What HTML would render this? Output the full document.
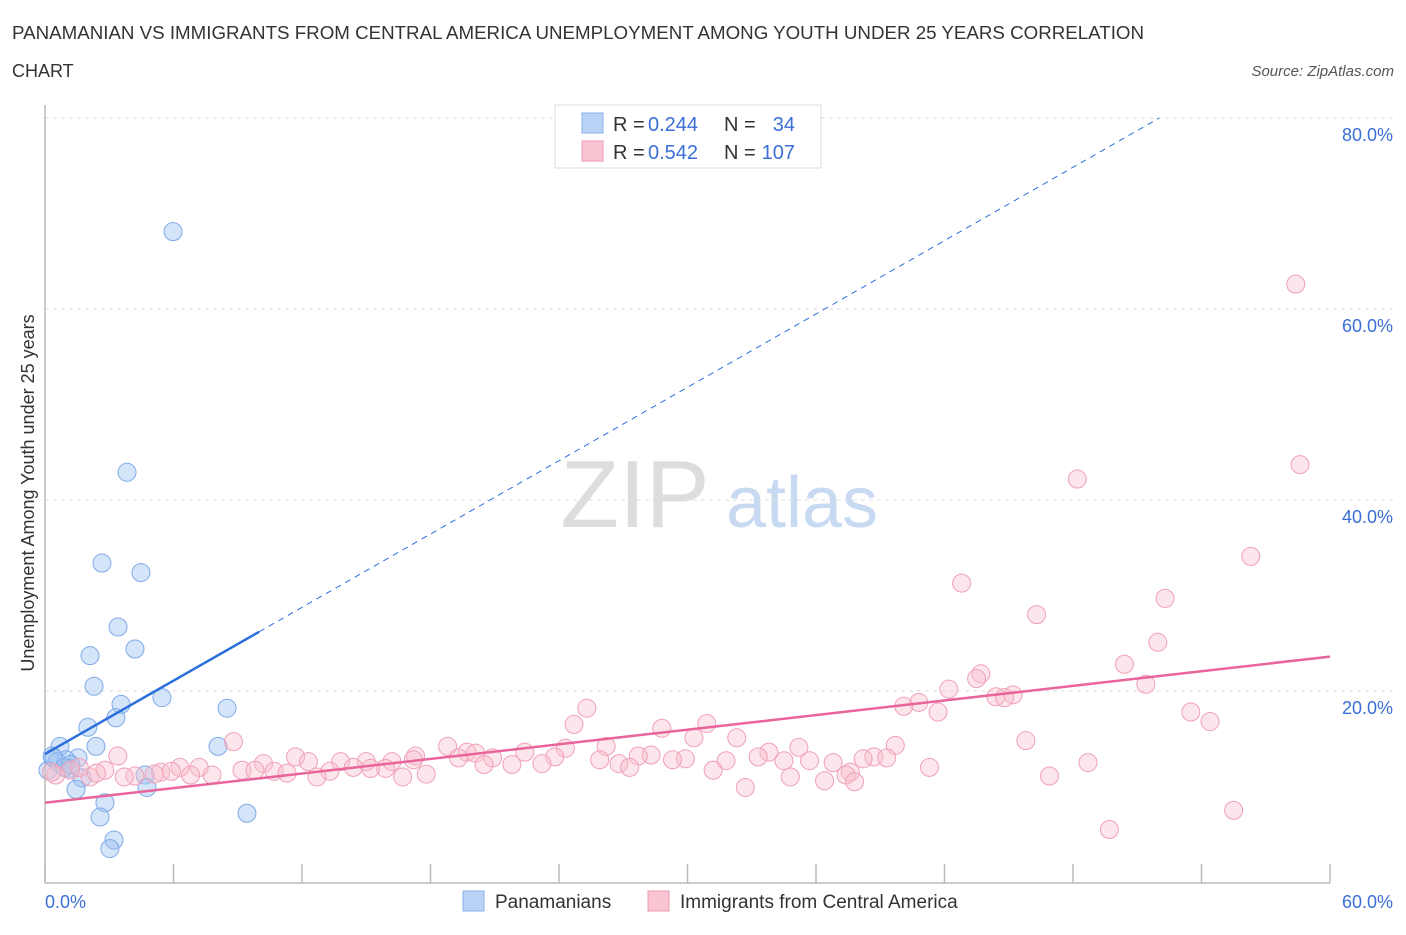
<!DOCTYPE html>
<html><head><meta charset="utf-8"><style>
body{margin:0;background:#fff;font-family:"Liberation Sans",sans-serif;}
svg text{font-family:"Liberation Sans",sans-serif;}
</style></head><body>
<svg id="chart" width="1406" height="930" viewBox="0 0 1406 930" xmlns="http://www.w3.org/2000/svg">
<text x="12" y="39" font-size="18" fill="#333" textLength="1132" lengthAdjust="spacingAndGlyphs">PANAMANIAN VS IMMIGRANTS FROM CENTRAL AMERICA UNEMPLOYMENT AMONG YOUTH UNDER 25 YEARS CORRELATION</text>
<text x="12" y="77" font-size="18" fill="#333">CHART</text>
<text x="1394" y="76" font-size="15" fill="#555" font-style="italic" text-anchor="end">Source: ZipAtlas.com</text>
<text x="635" y="527" font-size="96" fill="#ddd" font-family="Liberation Serif" text-anchor="middle">ZIP</text>
<text x="802" y="527" font-size="72" fill="#c8daf2" text-anchor="middle">atlas</text>
<g id="grid"></g>
<g id="axes"></g>
<g id="marks"></g>
<text transform="translate(34,493) rotate(-90)" font-size="18" fill="#333" text-anchor="middle">Unemployment Among Youth under 25 years</text>
<text x="45" y="908" font-size="18" fill="#3a6fd8">0.0%</text>
<text x="1393" y="908" font-size="18" fill="#3a6fd8" text-anchor="end">60.0%</text>
<g>
<rect x="555" y="105" width="266" height="63" fill="#fff" stroke="#ddd"/>
<rect x="582" y="113" width="21" height="20" fill="#b8d3f5" stroke="#8ab0e8"/>
<rect x="582" y="141" width="21" height="20" fill="#f9c5d3" stroke="#ee9ab2"/>
<text x="613" y="131" font-size="20" fill="#333">R =</text>
<text x="648" y="131" font-size="20" fill="#3a6fd8">0.244</text>
<text x="724" y="131" font-size="20" fill="#333">N =</text>
<text x="795" y="131" font-size="20" fill="#3a6fd8" text-anchor="end">34</text>
<text x="613" y="159" font-size="20" fill="#333">R =</text>
<text x="648" y="159" font-size="20" fill="#3a6fd8">0.542</text>
<text x="724" y="159" font-size="20" fill="#333">N =</text>
<text x="795" y="159" font-size="20" fill="#3a6fd8" text-anchor="end">107</text>
</g>
<g>
<rect x="463" y="891" width="21" height="20" fill="#b8d3f5" stroke="#8ab0e8"/>
<text x="495" y="908" font-size="19" fill="#333">Panamanians</text>
<rect x="648" y="891" width="21" height="20" fill="#f9c5d3" stroke="#ee9ab2"/>
<text x="680" y="908" font-size="19" fill="#333">Immigrants from Central America</text>
</g>
</svg>
<script>
const yTicks=[20,40,60,80];
const yTickLabels=["20.0%","40.0%","60.0%","80.0%"];
const xTicks=[0,6,12,18,24,30,36,42,48,54,60];
const blueX=[5.98,3.83,2.66,4.48,3.41,4.2,2.1,2.29,5.46,3.55,8.5,3.31,2.0,2.38,8.08,0.7,0.33,1.54,0.98,0.56,1.17,4.67,1.73,4.76,1.45,2.8,9.43,2.57,3.22,3.03,0.14,1.2,0.4,0.9];
const blueY=[68.1,42.9,33.4,32.4,26.7,24.4,23.7,20.5,19.3,18.6,18.2,17.2,16.2,14.2,14.2,14.2,13.2,13.0,12.8,12.6,11.9,11.2,10.9,9.9,9.7,8.3,7.2,6.8,4.4,3.5,11.7,12.3,13.0,12.0];
const pinkX=[58.4,58.6,48.2,56.3,42.8,52.3,46.3,51.96,50.4,43.7,43.5,51.4,42.2,44.4,45.2,44.8,40.8,40.1,41.7,53.5,25.3,54.4,24.7,30.9,28.8,8.8,32.3,30.3,45.8,39.7,18.8,26.2,35.2,24.3,3.4,28.3,19.7,20.1,33.8,17.3,11.7,27.7,22.4,38.7,33.3,23.8,38.2,29.9,29.3,39.3,19.3,20.9,17.2,34.5,35.7,36.8,31.8,25.9,12.3,13.8,15.0,16.2,21.8,23.2,20.5,26.8,48.7,10.2,6.3,7.2,14.4,15.9,9.2,9.8,10.7,11.3,13.3,15.2,27.3,41.3,2.8,1.2,5.4,5.9,37.6,6.8,7.8,4.2,5.1,3.7,31.2,17.8,16.7,12.7,2.1,37.4,46.9,34.8,36.4,37.8,0.5,32.7,55.5,49.7,0.3,1.6,2.4];
const pinkY=[62.6,43.7,42.2,34.1,31.3,29.7,28.0,25.1,22.8,21.8,21.3,20.7,20.2,19.4,19.6,19.3,18.8,18.4,17.8,17.8,18.2,16.8,16.5,16.6,16.1,14.7,15.1,15.1,14.8,14.3,14.2,14.2,14.1,14.0,13.2,13.3,13.6,13.5,13.6,13.2,13.1,13.2,13.6,13.1,13.1,13.1,12.9,12.9,12.8,13.0,13.0,13.0,12.8,12.7,12.7,12.5,12.7,12.8,12.6,12.6,12.6,12.6,12.3,12.4,12.3,12.4,12.5,12.4,12.0,12.0,12.0,11.9,11.7,11.7,11.6,11.4,11.6,11.9,12.0,12.0,11.7,11.7,11.5,11.6,11.5,11.2,11.2,11.1,11.3,11.0,11.7,11.3,11.0,11.0,11.0,11.2,11.1,11.0,10.6,10.5,11.2,9.9,7.5,5.5,11.5,12.0,11.4];
const blueTrend=[13.4,1.28];
const pinkTrend=[8.3,0.255];
const NS="http://www.w3.org/2000/svg";
const X=v=>45+v*(1285/60);
const Y=v=>882-v*9.55;
function mk(tag,attrs,parent){const e=document.createElementNS(NS,tag);for(const k in attrs)e.setAttribute(k,attrs[k]);document.getElementById(parent).appendChild(e);return e;}
yTicks.forEach((t,i)=>{
 const l=mk('line',{x1:45,x2:1395,y1:Y(t),y2:Y(t),stroke:'#ddd','stroke-dasharray':'4,4'},'grid');
 
 
 const tx=mk('text',{x:1393,y:Y(t)+23,'font-size':18,fill:'#3a6fd8','text-anchor':'end'},'grid');
 tx.textContent=yTickLabels[i];
 
 
});
const ax=mk('line',{x1:45,x2:45,y1:105,y2:883,stroke:'#bbb','stroke-width':1.5},'axes');


const bx=mk('line',{x1:45,x2:1330,y1:883,y2:883,stroke:'#bbb','stroke-width':1.5},'axes');


xTicks.forEach(t=>{
 const l=mk('line',{x1:X(t),x2:X(t),y1:864,y2:883,stroke:'#bbb','stroke-width':1.5},'axes');
 
 
});
blueX.forEach((x,i)=>{
 const c=mk('circle',{cx:X(x),cy:Y(blueY[i]),r:9,fill:'rgba(160,196,242,0.45)',stroke:'#7eaae8','stroke-width':1},'marks');
 
 
});
pinkX.forEach((x,i)=>{
 const c=mk('circle',{cx:X(x),cy:Y(pinkY[i]),r:9,fill:'rgba(248,190,206,0.4)',stroke:'#f0a0b8','stroke-width':1},'marks');
 
 
});
const bs=mk('line',{x1:X(0),y1:Y(blueTrend[0]),x2:X(10),y2:Y(blueTrend[0]+blueTrend[1]*10),stroke:'#2a6fdb','stroke-width':2.5},'marks');


const xe=(80-blueTrend[0])/blueTrend[1];
const bd=mk('line',{x1:X(10),y1:Y(blueTrend[0]+blueTrend[1]*10),x2:X(xe),y2:Y(80),stroke:'#2a6fdb','stroke-width':1,'stroke-dasharray':'6,5'},'marks');


const pl=mk('line',{x1:X(0),y1:Y(pinkTrend[0]),x2:X(60),y2:Y(pinkTrend[0]+pinkTrend[1]*60),stroke:'#e8649a','stroke-width':2.5},'marks');


</script>
</body></html>
